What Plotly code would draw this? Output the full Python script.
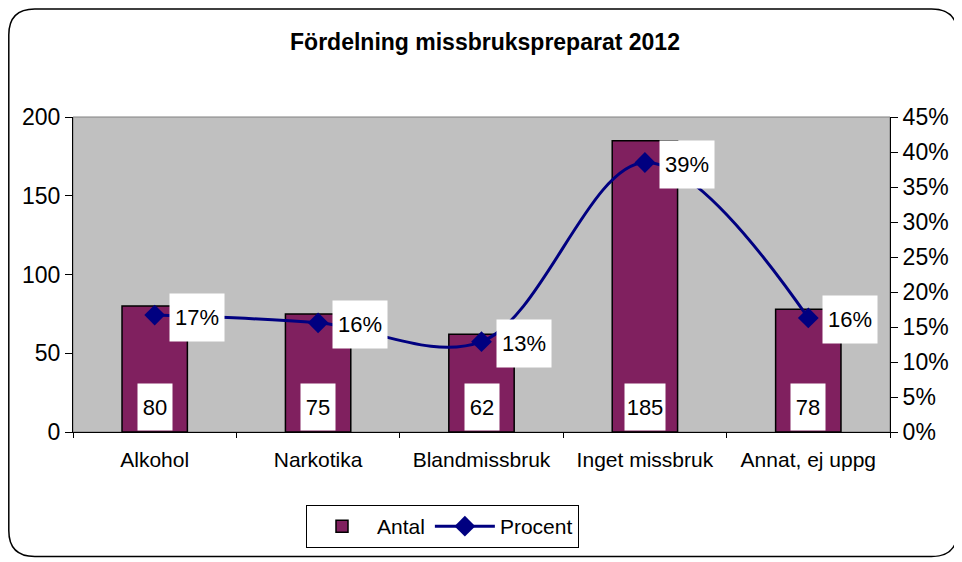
import plotly.graph_objects as go

categories = ["Alkohol", "Narkotika", "Blandmissbruk", "Inget missbruk", "Annat, ej uppg"]
antal = [80, 75, 62, 185, 78]
procent = [16.7, 15.6, 12.9, 38.5, 16.3]
procent_labels = ["17%", "16%", "13%", "39%", "16%"]

# page body adds an 8px offset, so the figure is a bit smaller than the window
OFF = 8
W, H = 962 - OFF, 562 - OFF
# plot area in screen pixels: x 73..890, y 117..432
X0, X1, Y0, Y1 = 73, 890, 117, 432
L, T = X0 - OFF, Y0 - OFF
R, B = W - (X1 - OFF), H - (Y1 - OFF)
FONT = "Liberation Sans, Arial, sans-serif"


def px(x):
    return (x - X0) / (X1 - X0)


def py(y):
    return (Y1 - y) / (Y1 - Y0)


def rounded_rect(x0, y0, x1, y1, r):
    pts = [
        f"M {px(x0 + r)},{py(y0)}",
        f"L {px(x1 - r)},{py(y0)}",
        f"Q {px(x1)},{py(y0)} {px(x1)},{py(y0 + r)}",
        f"L {px(x1)},{py(y1 - r)}",
        f"Q {px(x1)},{py(y1)} {px(x1 - r)},{py(y1)}",
        f"L {px(x0 + r)},{py(y1)}",
        f"Q {px(x0)},{py(y1)} {px(x0)},{py(y1 - r)}",
        f"L {px(x0)},{py(y0 + r)}",
        f"Q {px(x0)},{py(y0)} {px(x0 + r)},{py(y0)}",
        "Z",
    ]
    return " ".join(pts)


fig = go.Figure()

fig.add_trace(
    go.Bar(
        x=categories,
        y=antal,
        name="Antal",
        width=0.4,
        marker=dict(color="#80205F", line=dict(color="black", width=1.5)),
    )
)

fig.add_trace(
    go.Scatter(
        x=categories,
        y=procent,
        name="Procent",
        yaxis="y2",
        mode="lines+markers",
        line=dict(color="#000080", width=3, shape="spline", smoothing=1),
        marker=dict(symbol="diamond", size=16, color="#000080"),
    )
)

# value labels in the bars
for c, v in zip(categories, antal):
    fig.add_annotation(
        x=c, y=0, yref="y", text=str(v), showarrow=False,
        yanchor="bottom", yshift=1, width=38 if v >= 100 else 32, height=44,
        bgcolor="white", font=dict(size=22, color="black"),
    )

# percent labels next to the markers
for c, p, t in zip(categories, procent, procent_labels):
    fig.add_annotation(
        x=c, y=p, yref="y2", text=t, showarrow=False,
        xanchor="left", xshift=14, yshift=-2, width=52, height=45,
        bgcolor="white", font=dict(size=22, color="black"),
    )

fig.add_shape(
    type="rect", xref="paper", yref="paper", x0=0, x1=1, y0=0, y1=1,
    line=dict(color="#808080", width=1), layer="below",
)
fig.add_shape(
    type="path", xref="paper", yref="paper",
    path=rounded_rect(8.8, 9, 957.5, 556.5, 26),
    line=dict(color="black", width=1.5),
)

tick_common = dict(showgrid=False, zeroline=False, tickcolor="black")

fig.update_layout(
    width=W,
    height=H,
    margin=dict(l=L, r=R, t=T, b=B),
    paper_bgcolor="white",
    plot_bgcolor="#C0C0C0",
    font=dict(family=FONT, color="black"),
    title=dict(
        text="<b>Fördelning missbrukspreparat 2012</b>",
        x=0.5, xanchor="center", y=1 - (42 - OFF) / H, yanchor="middle",
        font=dict(size=23, color="black"),
    ),
    showlegend=True,
    legend=dict(
        orientation="h", x=px(306), y=py(505), xanchor="left", yanchor="top",
        bordercolor="black", borderwidth=1, bgcolor="white",
        font=dict(size=21), traceorder="normal", itemwidth=60,
    ),
    xaxis=dict(
        showline=True, linecolor="black", linewidth=1,
        ticks="outside", ticklen=5, tickson="boundaries",
        tickfont=dict(size=21), ticklabelstandoff=9, **tick_common,
    ),
    xaxis2=dict(
        overlaying="x", anchor="y", type="category",
        categoryarray=categories, range=[-0.5, 4.5],
        ticks="inside", ticklen=6, tickson="boundaries",
        tickvals=categories, showticklabels=False, showline=False,
        **tick_common,
    ),
    yaxis=dict(
        range=[0, 200], dtick=50,
        showline=True, linecolor="black", linewidth=1,
        ticks="outside", ticklen=7, tickfont=dict(size=23), **tick_common,
    ),
    yaxis2=dict(
        range=[0, 45], dtick=5, ticksuffix="%", overlaying="y", side="right",
        showline=True, linecolor="black", linewidth=1,
        ticks="outside", ticklen=7, tickfont=dict(size=23), **tick_common,
    ),
    yaxis3=dict(
        range=[0, 200], dtick=50, overlaying="y", side="left", anchor="x",
        ticks="inside", ticklen=9, showticklabels=False, showline=False,
        **tick_common,
    ),
    yaxis4=dict(
        range=[0, 45], dtick=5, overlaying="y", side="right", anchor="x",
        ticks="inside", ticklen=8, showticklabels=False, showline=False,
        **tick_common,
    ),
)

fig.write_html("out.html")
